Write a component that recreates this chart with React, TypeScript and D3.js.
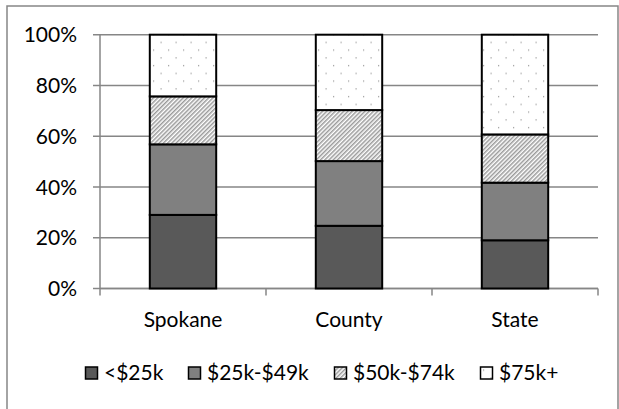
import React from "react";
import * as d3 from "d3";

// Household income distribution by geography (share of households)
const categories = ["Spokane", "County", "State"];
const seriesNames = ["<$25k", "$25k-$49k", "$50k-$74k", "$75k+"];
const under25k = [0.29, 0.247, 0.19];
const from25to49k = [0.278, 0.255, 0.227];
const from50to74k = [0.189, 0.201, 0.19];
const over75k = [0.243, 0.297, 0.393];
const yTicks = [0, 0.2, 0.4, 0.6, 0.8, 1.0];

const seriesValues = [under25k, from25to49k, from50to74k, over75k];
const fills = ["#595959", "#808080", "url(#hatch)", "url(#dots)"];

const W = 619;
const H = 409;
const plot = { left: 100, right: 598, top: 34.7, bottom: 288.5 };
const FONT = "Lato, 'Open Sans', sans-serif";
const FS = 21;

export default function App() {
  const x = d3
    .scaleBand<string>()
    .domain(categories)
    .range([plot.left, plot.right])
    .paddingInner(0)
    .paddingOuter(0);
  const y = d3.scaleLinear().domain([0, 1]).range([plot.bottom, plot.top]);

  const rows = categories.map((c, i) => {
    const r: Record<string, number | string> = { category: c };
    seriesNames.forEach((s, k) => (r[s] = seriesValues[k][i]));
    return r;
  });
  const stacked = d3.stack<any>().keys(seriesNames)(rows);
  const barW = x.bandwidth() * 0.4;

  const legendX = [85, 188, 334, 480];

  return (
    <svg
      width={W}
      height={H}
      style={{ position: "absolute", left: 0, top: 0, background: "#fff" }}
      fontFamily={FONT}
    >
      <defs>
        <pattern
          id="hatch"
          patternUnits="userSpaceOnUse"
          width={3}
          height={3}
          patternTransform="rotate(45)"
        >
          <rect width={3} height={3} fill="#fff" />
          <rect width={1.5} height={3} fill="#9a9a9a" />
        </pattern>
        <pattern id="dots" patternUnits="userSpaceOnUse" width={15} height={15.5}>
          <rect width={15} height={15.5} fill="#fff" />
          <rect x={3} y={3} width={1.2} height={1.2} fill="#999" />
          <rect x={10.5} y={10.8} width={1.2} height={1.2} fill="#999" />
        </pattern>
      </defs>

      {/* chart frame */}
      <rect x={7} y={6} width={611} height={410} fill="none" stroke="#868686" strokeWidth={1.5} />

      {/* gridlines and y-axis labels */}
      {yTicks.map((t) => (
        <g key={t}>
          <line
            x1={plot.left - 7}
            x2={plot.right}
            y1={y(t)}
            y2={y(t)}
            stroke="#868686"
            strokeWidth={1.5}
          />
          <text
            x={77}
            y={y(t)}
            dy="0.36em"
            textAnchor="end"
            fontSize={FS}
            fill="#000"
          >
            {d3.format(".0%")(t)}
          </text>
        </g>
      ))}

      {/* axes */}
      <line x1={plot.left} x2={plot.left} y1={plot.top} y2={plot.bottom} stroke="#868686" strokeWidth={1.5} />
      <line x1={plot.left} x2={plot.right} y1={plot.bottom} y2={plot.bottom} stroke="#868686" strokeWidth={1.5} />
      {[...categories.map((c) => x(c) as number), plot.right].map((tx, i) => (
        <line key={i} x1={tx} x2={tx} y1={plot.bottom} y2={plot.bottom + 7} stroke="#868686" strokeWidth={1.5} />
      ))}

      {/* stacked bars */}
      {stacked.map((layer, k) => (
        <g key={layer.key}>
          {layer.map((d, i) => {
            const cx = (x(categories[i]) as number) + x.bandwidth() / 2;
            return (
              <rect
                key={i}
                x={cx - barW / 2}
                y={y(d[1])}
                width={barW}
                height={y(d[0]) - y(d[1])}
                fill={fills[k]}
                stroke="#000"
                strokeWidth={2}
              />
            );
          })}
        </g>
      ))}

      {/* category labels */}
      {categories.map((c) => (
        <text
          key={c}
          x={(x(c) as number) + x.bandwidth() / 2}
          y={327}
          textAnchor="middle"
          fontSize={FS}
          fill="#000"
        >
          {c}
        </text>
      ))}

      {/* legend */}
      {seriesNames.map((s, k) => (
        <g key={s} transform={`translate(${legendX[k]},366.5)`}>
          <rect x={0.5} y={0.5} width={12} height={12} fill={fills[k]} stroke="#000" strokeWidth={1.5} />
          <text x={19} y={13.5} fontSize={FS} fill="#000">
            {s}
          </text>
        </g>
      ))}
    </svg>
  );
}
